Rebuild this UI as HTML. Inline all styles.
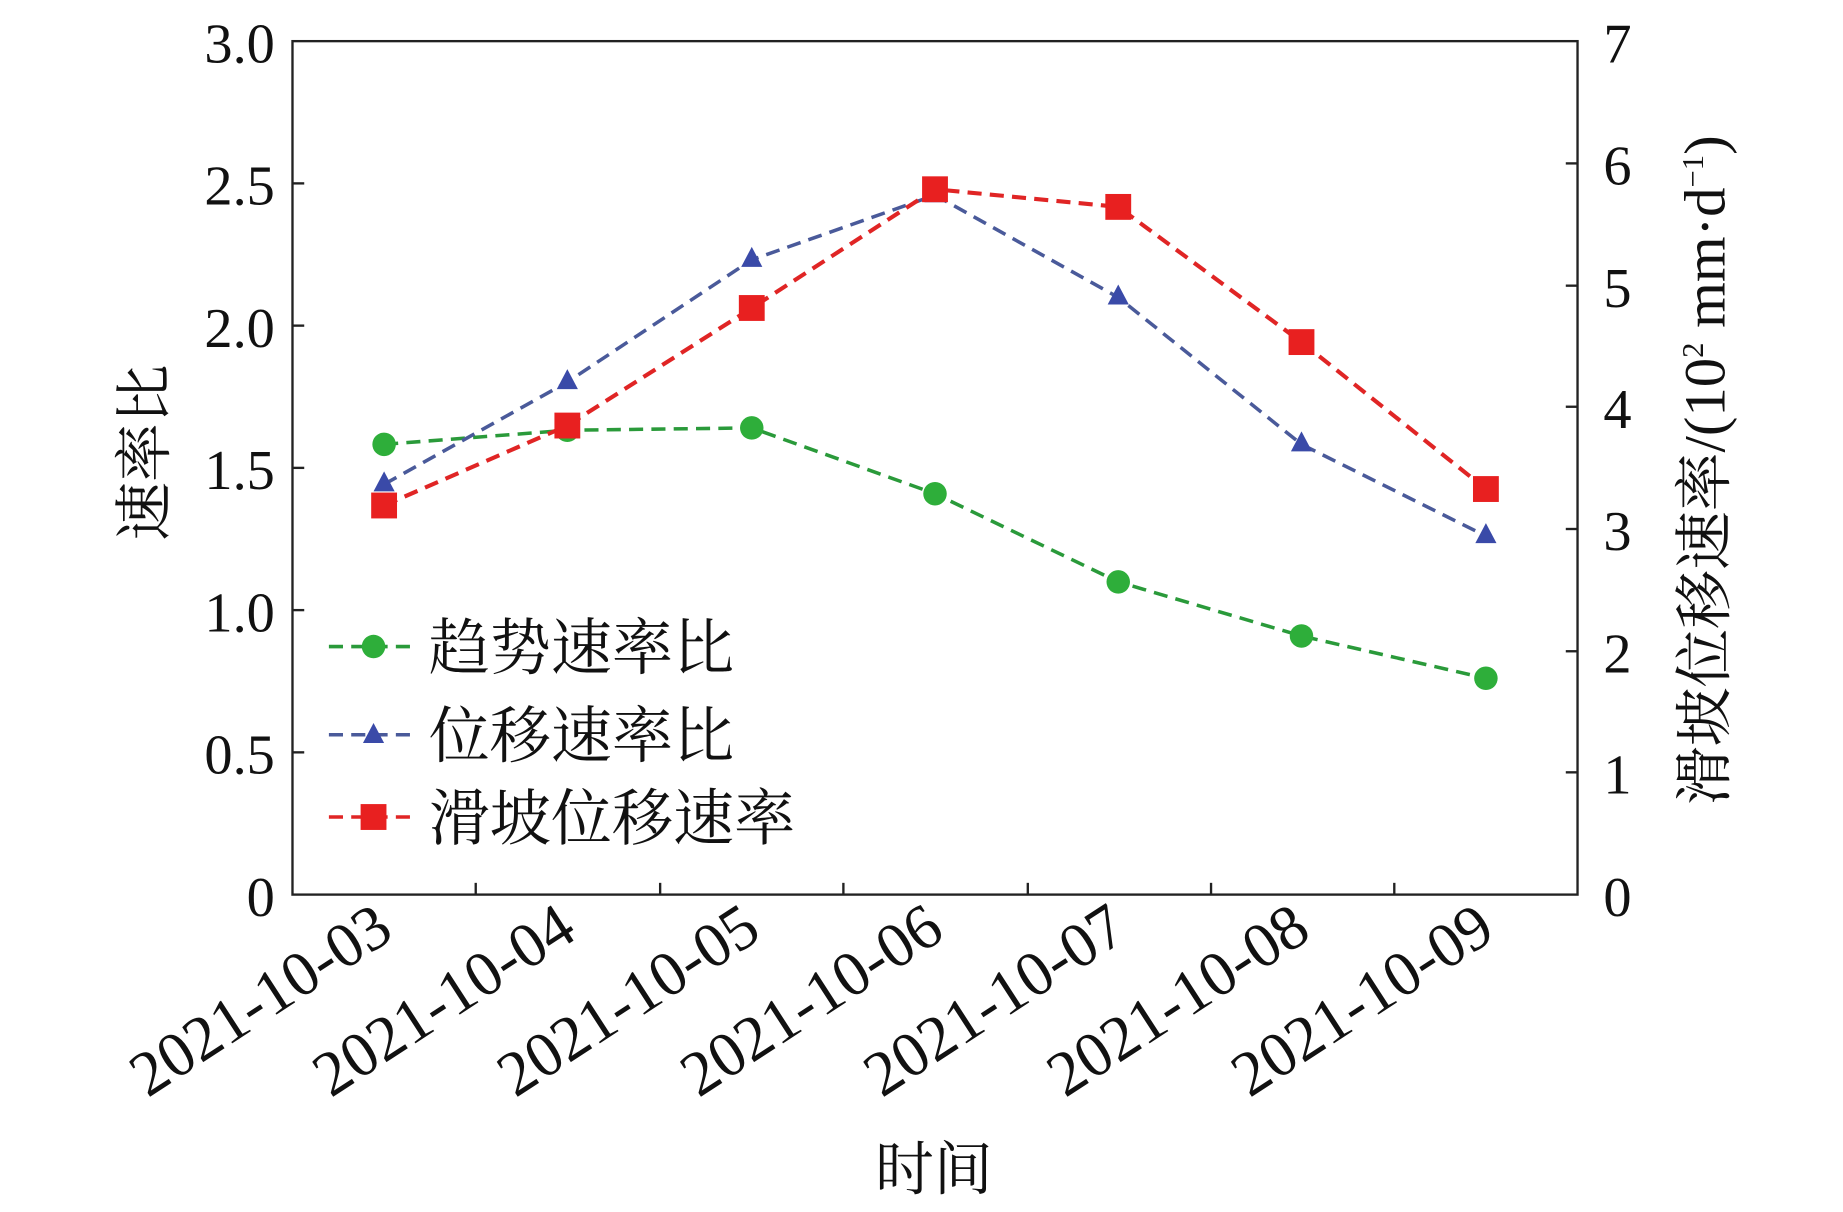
<!DOCTYPE html>
<html><head><meta charset="utf-8"><style>html,body{margin:0;padding:0;background:#fff}svg{display:block}</style></head>
<body>
<svg width="1843" height="1212" viewBox="0 0 1569 1031" preserveAspectRatio="none" xmlns="http://www.w3.org/2000/svg">
<g font-family="Liberation Serif, serif" font-size="48" fill="#111">
<rect x="249" y="35" width="1094" height="726" fill="none" stroke="#222" stroke-width="2"/>
<g stroke="#222" stroke-width="2">
<line x1="249" y1="156" x2="259" y2="156"/><line x1="249" y1="277" x2="259" y2="277"/><line x1="249" y1="398" x2="259" y2="398"/><line x1="249" y1="519" x2="259" y2="519"/><line x1="249" y1="640" x2="259" y2="640"/>
<line x1="1333" y1="139" x2="1343" y2="139"/><line x1="1333" y1="243" x2="1343" y2="243"/><line x1="1333" y1="346" x2="1343" y2="346"/><line x1="1333" y1="450" x2="1343" y2="450"/><line x1="1333" y1="554" x2="1343" y2="554"/><line x1="1333" y1="657" x2="1343" y2="657"/>
<line x1="405" y1="761" x2="405" y2="751"/><line x1="562" y1="761" x2="562" y2="751"/><line x1="718" y1="761" x2="718" y2="751"/><line x1="875" y1="761" x2="875" y2="751"/><line x1="1031" y1="761" x2="1031" y2="751"/><line x1="1187" y1="761" x2="1187" y2="751"/>
</g>
<g text-anchor="end">
<text x="234" y="53">3.0</text><text x="234" y="174">2.5</text><text x="234" y="295">2.0</text><text x="234" y="416">1.5</text><text x="234" y="537">1.0</text><text x="234" y="658">0.5</text><text x="234" y="779">0</text>
</g>
<g text-anchor="start">
<text x="1365" y="53">7</text><text x="1365" y="157">6</text><text x="1365" y="261">5</text><text x="1365" y="364">4</text><text x="1365" y="468">3</text><text x="1365" y="572">2</text><text x="1365" y="675">1</text><text x="1365" y="779">0</text>
</g>
<g text-anchor="end" font-size="54">
<text transform="translate(337,797) rotate(-33)">2021-10-03</text>
<text transform="translate(493,797) rotate(-33)">2021-10-04</text>
<text transform="translate(650,797) rotate(-33)">2021-10-05</text>
<text transform="translate(806,797) rotate(-33)">2021-10-06</text>
<text transform="translate(962,797) rotate(-33)">2021-10-07</text>
<text transform="translate(1118,797) rotate(-33)">2021-10-08</text>
<text transform="translate(1275,797) rotate(-33)">2021-10-09</text>
</g>
<g font-family="Liberation Serif, Noto Serif CJK SC, serif" font-size="50">
<text x="795" y="1012" text-anchor="middle">时间</text>
<text transform="translate(140,385) rotate(-90)" text-anchor="middle">速率比</text>
<text transform="translate(1468,400) rotate(-90)" text-anchor="middle">滑坡位移速率/(10<tspan font-size="26" dy="-18">2</tspan><tspan dy="18"> mm·d</tspan><tspan font-size="26" dy="-18">−1</tspan><tspan dy="18">)</tspan></text>
</g>
<polyline points="327,378 483,366 640,364 796,420 952,495 1108,541 1265,577" fill="none" stroke="#2a9a3a" stroke-width="3" stroke-dasharray="12,7"/>
<polyline points="327,412 483,325 640,221 796,166 952,253 1108,378 1265,456" fill="none" stroke="#4a5a9a" stroke-width="3" stroke-dasharray="12,7"/>
<polyline points="327,430 483,362 640,262 796,161 952,176 1108,291 1265,416" fill="none" stroke="#e02525" stroke-width="3.5" stroke-dasharray="12,7"/>
<g fill="#2eae3a"><circle cx="327" cy="378" r="10"/><circle cx="483" cy="366" r="10"/><circle cx="640" cy="364" r="10"/><circle cx="796" cy="420" r="10"/><circle cx="952" cy="495" r="10"/><circle cx="1108" cy="541" r="10"/><circle cx="1265" cy="577" r="10"/></g>
<g fill="#3a4aa8"><polygon points="327,401 318,418 336,418"/><polygon points="483,314 474,331 492,331"/><polygon points="640,210 631,227 649,227"/><polygon points="796,155 787,172 805,172"/><polygon points="952,242 943,259 961,259"/><polygon points="1108,367 1099,384 1117,384"/><polygon points="1265,445 1256,462 1274,462"/></g>
<g fill="#e82020"><rect x="316" y="419" width="22" height="22"/><rect x="472" y="351" width="22" height="22"/><rect x="629" y="251" width="22" height="22"/><rect x="785" y="150" width="22" height="22"/><rect x="941" y="165" width="22" height="22"/><rect x="1097" y="280" width="22" height="22"/><rect x="1254" y="405" width="22" height="22"/></g>
<line x1="280" y1="550" x2="356" y2="550" stroke="#2a9a3a" stroke-width="3" stroke-dasharray="12,7"/><circle cx="318" cy="550" r="10" fill="#2eae3a"/>
<line x1="280" y1="625" x2="356" y2="625" stroke="#4a5a9a" stroke-width="3" stroke-dasharray="12,7"/><polygon points="318,615 309,632 327,632" fill="#3a4aa8"/>
<line x1="280" y1="695" x2="356" y2="695" stroke="#e02525" stroke-width="3" stroke-dasharray="12,7"/><rect x="307" y="684" width="22" height="22" fill="#e82020"/>
<g font-family="Liberation Serif, Noto Serif CJK SC, serif" font-size="52">
<text x="365" y="569">趋势速率比</text><text x="365" y="644">位移速率比</text><text x="365" y="714">滑坡位移速率</text>
</g>
</g>
</svg>
</body></html>
